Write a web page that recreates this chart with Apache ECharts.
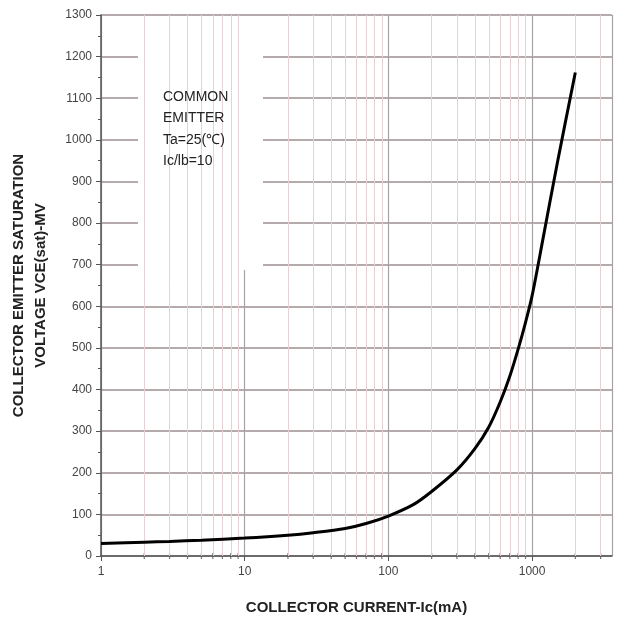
<!DOCTYPE html>
<html>
<head>
<meta charset="utf-8">
<script src="https://cdn.jsdelivr.net/npm/echarts@6/dist/echarts.min.js"></script>
<style>
html,body{margin:0;padding:0;background:#fff;}
#chart{width:618px;height:623px;}
</style>
</head>
<body>
<div id="chart"></div>
<script>
// Collector current Ic (mA)
var currentMA = [1, 2, 3, 5, 10, 20, 30, 50, 70, 100, 150, 200, 300, 400, 500, 600, 700, 800, 900, 1000, 1200, 1500, 2000];
// VCE(sat) in mV
var vceSat = [30, 33, 35, 38, 43, 50, 56, 66, 78, 96, 124, 155, 207, 258, 310, 370, 432, 497, 561, 625, 768, 945, 1162];
// minor log grid positions
var minorGrid = [2, 3, 4, 5, 6, 7, 8, 9, 20, 30, 40, 50, 60, 70, 80, 90, 200, 300, 400, 500, 600, 700, 800, 900, 2000, 3000];
var annotationLines = ['COMMON', 'EMITTER', 'Ta=25(\u2103)', 'Ic/lb=10'];
var xTitle = 'COLLECTOR CURRENT-Ic(mA)';
var yTitle = 'COLLECTOR EMITTER SATURATION\nVOLTAGE VCE(sat)-MV';

var chart = echarts.init(document.getElementById('chart'));
var font = 'Liberation Sans, Arial, sans-serif';
var curve = currentMA.map(function (x, i) { return [x, vceSat[i]]; });

chart.setOption({
  animation: false,
  backgroundColor: '#fff',
  grid: { left: 99, right: 6, top: 15, bottom: 67 },
  xAxis: {
    type: 'log', logBase: 10, min: 1, max: 3600,
    name: xTitle, nameLocation: 'middle', nameGap: 44,
    nameTextStyle: { fontFamily: font, fontWeight: 'bold', fontSize: 15, color: '#222' },
    axisLine: { show: true, lineStyle: { color: '#555', width: 1.5 } },
    axisTick: { show: true, length: 5, inside: false, lineStyle: { color: '#555' } },
    axisLabel: {
      fontFamily: font, fontSize: 12, color: '#444', margin: 10, showMaxLabel: false,
      formatter: function (v) { return String(Math.round(v)); }
    },
    splitLine: { show: true, lineStyle: { color: '#a8a2a2', width: 1.2 } }
  },
  yAxis: {
    type: 'value', min: 0, max: 1300, interval: 100,
    name: yTitle, nameLocation: 'middle', nameGap: 49, nameRotate: 90,
    nameTextStyle: { fontFamily: font, fontWeight: 'bold', fontSize: 15, color: '#222', lineHeight: 22 },
    axisLine: { show: true, lineStyle: { color: '#555', width: 1.5 } },
    axisTick: { show: true, length: 5, lineStyle: { color: '#555' } },
    minorTick: { show: true, splitNumber: 2, length: 3, lineStyle: { color: '#555' } },
    axisLabel: {
      fontFamily: font, fontSize: 12, color: '#444', margin: 9,
      formatter: function (v) { return String(v); }
    },
    splitLine: { show: true, lineStyle: { color: '#b5abad', width: 2 } }
  },
  series: [
    {
      type: 'scatter', silent: true, z: 1,
      symbol: 'rect', symbolSize: [1.2, 6],
      itemStyle: { color: '#555' },
      data: minorGrid.map(function (v) { return [v, 0]; }),
      markLine: {
        silent: true, symbol: 'none', label: { show: false }, animation: false,
        lineStyle: { color: '#e6d2d4', width: 1, type: 'solid' },
        data: minorGrid.map(function (v) { return { xAxis: v }; })
      }
    },
    {
      type: 'line', data: curve, smooth: 0.3, symbol: 'none',
      lineStyle: { color: '#000', width: 3 }, z: 5
    }
  ],
  graphic: [
    { type: 'rect', z: 3, shape: { x: 138, y: 16, width: 125, height: 254 }, style: { fill: '#fff' } },
    {
      type: 'text', z: 6, left: 163, top: 86,
      style: { text: annotationLines.join('\n'), font: '14px ' + font, fill: '#222', lineHeight: 21.5 }
    }
  ]
});
</script>
</body>
</html>
